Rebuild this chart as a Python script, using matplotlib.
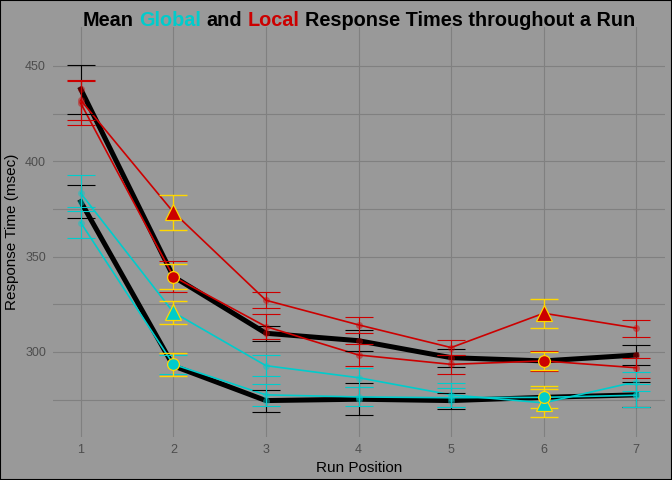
import matplotlib
matplotlib.use("Agg")
import matplotlib.pyplot as plt
import numpy as np

# run positions
positions = [1, 2, 3, 4, 5, 6, 7]
highlight_pos = [2, 6]

# local (red) responses
local_a = [432.0, 373.3, 327.1, 314.2, 302.3, 320.3, 312.5]
local_a_err = [10.5, 9.2, 4.2, 4.2, 4.1, 7.7, 4.5]
local_b = [430.4, 339.5, 313.3, 298.4, 293.5, 295.3, 291.7]
local_b_err = [11.5, 8.2, 6.5, 5.7, 5.0, 5.2, 5.2]
local_mean = [437.8, 339.5, 309.8, 305.9, 297.0, 295.3, 298.4]
local_mean_err = [12.8, 0, 4.0, 5.5, 4.8, 0, 5.5]
local_a_hl_err = [9.2, 7.7]
local_b_hl_err = [6.5, 4.9]

# global (cyan) responses
global_a = [383.2, 320.8, 292.8, 286.5, 277.5, 273.3, 284.4]
global_a_err = [9.5, 6.0, 5.4, 5.1, 6.4, 7.4, 5.0]
global_b = [367.8, 293.5, 277.5, 276.4, 276.0, 276.2, 277.3]
global_b_err = [8.0, 5.0, 5.8, 5.0, 5.0, 5.7, 6.0]
global_mean = [378.8, 292.7, 274.5, 275.2, 274.5, 276.2, 277.5]
global_mean_err = [8.7, 0, 5.8, 8.3, 4.2, 0, 6.5]
global_a_hl_err = [6.0, 7.4]
global_b_hl_err = [6.0, 5.7]

RED = "#CC0000"
CYAN = "#00CCCC"
GOLD = "#FFD700"
BG = "#999999"
GRID = "#808080"

plt.rcParams['font.family'] = ['Liberation Sans', 'DejaVu Sans']

fig = plt.figure(figsize=(6.72, 4.8), dpi=100, facecolor=BG)
ax = fig.add_axes([53 / 672, 1 - 437 / 480, 612 / 672, 410 / 480])
ax.set_facecolor(BG)
for s in ax.spines.values():
    s.set_visible(False)

# figure border
fig.patches.append(plt.Rectangle((0, 0), 1, 1, transform=fig.transFigure,
                                 fill=False, edgecolor='black', linewidth=1.5))

ax.set_xlim(0.7, 7.31)
ax.set_ylim(255.4, 470.4)
ax.set_xticks(positions)
ax.set_yticks([300, 350, 400, 450])
ax.set_yticks([275, 325, 375, 425], minor=True)
ax.grid(True, which='both', axis='y', color=GRID, linewidth=0.8)
ax.grid(True, which='major', axis='x', color=GRID, linewidth=0.8)
ax.set_axisbelow(True)
ax.tick_params(which='both', length=0, labelsize=9, labelcolor='#4d4d4d', pad=5)

x = np.array(positions)
normal = np.array([p not in highlight_pos for p in positions])
hl = ~normal

# mean lines
ax.plot(x, local_mean, color='black', linewidth=3.6, zorder=2)
ax.plot(x, global_mean, color='black', linewidth=3.6, zorder=2)

# condition lines
for ys, col in [(local_a, RED), (local_b, RED), (global_a, CYAN), (global_b, CYAN)]:
    ax.plot(x, ys, color=col, linewidth=1.2, zorder=3)

# error bars
eb = dict(fmt='none', elinewidth=0.8, capsize=10, capthick=0.8, zorder=4)
ax.errorbar(x[normal], np.array(local_mean)[normal], yerr=np.array(local_mean_err)[normal], ecolor='black', **eb)
ax.errorbar(x[normal], np.array(global_mean)[normal], yerr=np.array(global_mean_err)[normal], ecolor='black', **eb)
ax.errorbar(x[normal], np.array(local_a)[normal], yerr=np.array(local_a_err)[normal], ecolor=RED, **eb)
ax.errorbar(x, local_b, yerr=local_b_err, ecolor=RED, **eb)
ax.errorbar(x[normal], np.array(global_a)[normal], yerr=np.array(global_a_err)[normal], ecolor=CYAN, **eb)
ax.errorbar(x, global_b, yerr=global_b_err, ecolor=CYAN, **eb)

# small translucent points
for ys, col in [(local_a, RED), (local_b, RED), (local_mean, RED),
                (global_a, CYAN), (global_b, CYAN), (global_mean, CYAN)]:
    ax.plot(x[normal], np.array(ys)[normal], 'o', color=col, alpha=0.45,
            markersize=5, markeredgewidth=0, zorder=5)

# highlighted positions
for ys, errs, col, mk, ms in [(local_a, local_a_hl_err, RED, '^', 12),
                              (local_b, local_b_hl_err, RED, 'o', 8.5),
                              (global_a, global_a_hl_err, CYAN, '^', 12),
                              (global_b, global_b_hl_err, CYAN, 'o', 8.5)]:
    yv = np.array(ys)[hl]
    ax.errorbar(x[hl], yv, yerr=errs, fmt='none', ecolor=GOLD, elinewidth=1.0,
                capsize=10, capthick=1.0, zorder=6)
    ax.plot(x[hl], yv, mk, color=col, markersize=ms, markeredgecolor=GOLD,
            markeredgewidth=0.9, zorder=7)

ax.set_xlabel("Run Position", fontsize=11, color='black', labelpad=4)
ax.set_ylabel("Response Time (msec)", fontsize=11, color='black', labelpad=4)

# multi-coloured title, centred over the panel
parts = [("Mean", 'black'), ("Global", CYAN), ("and", 'black'), ("Local", RED),
         ("Response Times throughout a Run", 'black')]
full_title = " ".join(p[0] for p in parts)
fig.canvas.draw()
r = fig.canvas.get_renderer()
tkw = dict(fontsize=15, fontweight='bold')


def text_width(s):
    t = fig.text(0, 0, s, **tkw)
    w = t.get_window_extent(renderer=r).width
    t.remove()
    return w


# original title is about 553 px wide
tkw['fontsize'] = 15 * 553 / text_width(full_title)
total = text_width(full_title)
x0 = 359 - total / 2
prefix = ""
for word, col in parts:
    prefix = word if not prefix else prefix + " " + word
    start = x0 + text_width(prefix) - text_width(word)
    fig.text(start / 672, 1 - 26 / 480, word, color=col, ha='left', va='baseline', **tkw)

fig.savefig("out.png", dpi=100, facecolor=BG)
